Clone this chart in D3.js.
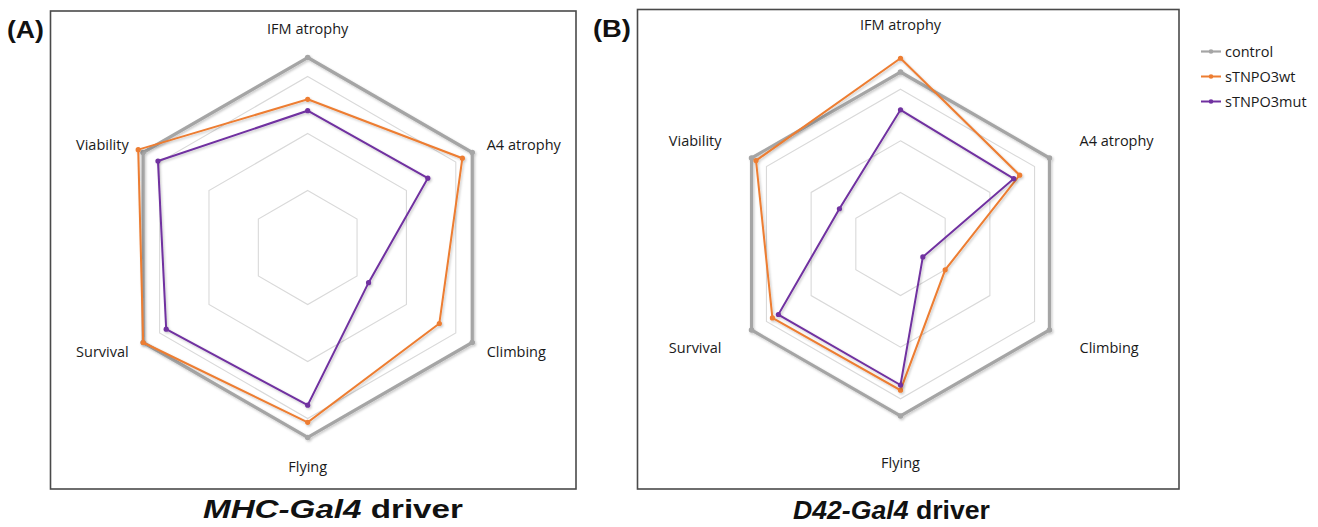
<!DOCTYPE html>
<html>
<head>
<meta charset="utf-8">
<script src="https://cdn.jsdelivr.net/npm/d3@7"></script>
<style>
  html, body { margin: 0; padding: 0; background: #ffffff; }
  svg { display: block; }
</style>
</head>
<body>
<svg id="chart" width="1318" height="527"></svg>
<script>
// ---------- data ----------
const categories = ["IFM atrophy", "A4 atrophy", "Climbing", "Flying", "Survival", "Viability"];
const seriesNames = ["control", "sTNPO3wt", "sTNPO3mut"];
const gridTicks = [0.3, 0.6, 0.9];

// Panel A: MHC-Gal4 driver
const controlA = [1.00, 1.00, 1.00, 1.00, 1.00, 1.00];
const wtA      = [0.78, 0.94, 0.80, 0.92, 1.00, 1.03];
const mutA     = [0.72, 0.73, 0.37, 0.83, 0.86, 0.91];

// Panel B: D42-Gal4 driver
const controlB = [1.00, 1.00, 1.00, 1.00, 1.00, 1.00];
const wtB      = [1.08, 0.80, 0.30, 0.85, 0.86, 0.97];
const mutB     = [0.78, 0.76, 0.15, 0.82, 0.82, 0.41];

const panelLabels = ["(A)", "(B)"];
const driverNames = ["MHC-Gal4", "D42-Gal4"];
const driverSuffix = " driver";

// ---------- styles ----------
const colors = { control: "#a5a5a5", sTNPO3wt: "#ed7d31", sTNPO3mut: "#7030a0" };
const widths = { control: 3.2, sTNPO3wt: 2, sTNPO3mut: 2 };
const labelFont = "'Open Sans', 'Noto Sans', sans-serif";
const headFont = "'Liberation Sans', Arial, sans-serif";

const svg = d3.select("#chart");
const defs = svg.append("defs");
const f = defs.append("filter").attr("id", "shadow").attr("x", "-10%").attr("y", "-10%").attr("width", "120%").attr("height", "120%");
f.append("feDropShadow").attr("dx", 1.2).attr("dy", 1.5).attr("stdDeviation", 1.1)
  .attr("flood-color", "#000").attr("flood-opacity", 0.22);

const panels = [
  { box: [50.5, 11, 576, 489], cx: 307.7, cy: 247.5, R: 190,
    series: [controlA, wtA, mutA], plab: [7, 38, 37],
    title: [203, 518, 260] },
  { box: [637.5, 9.5, 1179, 489], cx: 900.5, cy: 244, R: 172,
    series: [controlB, wtB, mutB], plab: [593, 37, 38],
    title: [793, 519, 197] }
];

const n = categories.length;
const angle = i => i * 2 * Math.PI / n;

// fitted text helper: draws text and scales it horizontally to a target width
function fittedText(g, x, y, width, build) {
  const grp = g.append("g");
  const t = grp.append("text").attr("x", 0).attr("y", 0);
  build(t);
  const w = t.node().getComputedTextLength();
  grp.attr("transform", `translate(${x},${y}) scale(${width / w},1)`);
  return grp;
}

panels.forEach((p, pi) => {
  const g = svg.append("g");
  // box
  g.append("rect")
    .attr("x", p.box[0]).attr("y", p.box[1])
    .attr("width", p.box[2] - p.box[0]).attr("height", p.box[3] - p.box[1])
    .attr("fill", "none").attr("stroke", "#4a4a4a").attr("stroke-width", 1.6);

  const r = d3.scaleLinear().domain([0, 1]).range([0, p.R]);
  const plot = g.append("g").attr("transform", `translate(${p.cx},${p.cy})`);

  // grid rings
  const ring = d3.lineRadial().angle((d, i) => angle(i)).radius(d => r(d)).curve(d3.curveLinearClosed);
  gridTicks.forEach(t => {
    plot.append("path").attr("d", ring(categories.map(() => t)))
      .attr("fill", "none").attr("stroke", "#d9d9d9").attr("stroke-width", 1.1);
  });

  // series
  p.series.forEach((vals, si) => {
    const name = seriesNames[si];
    const line = d3.lineRadial().angle((d, i) => angle(i)).radius(d => r(d)).curve(d3.curveLinearClosed);
    const sg = plot.append("g").attr("filter", "url(#shadow)");
    sg.append("path").attr("d", line(vals))
      .attr("fill", "none").attr("stroke", colors[name]).attr("stroke-width", widths[name])
      .attr("stroke-linejoin", "miter");
    sg.selectAll("circle").data(vals).join("circle")
      .attr("cx", (d, i) => d3.pointRadial(angle(i), r(d))[0])
      .attr("cy", (d, i) => d3.pointRadial(angle(i), r(d))[1])
      .attr("r", name === "control" ? 2.8 : 2.6)
      .attr("fill", colors[name]);
  });

  // category labels
  const lbl = g.append("g").attr("font-family", labelFont).attr("font-size", 14.5).attr("fill", "#1a1a1a");
  categories.forEach((c, i) => {
    const a = angle(i);
    const sx = Math.sin(a), cyy = -Math.cos(a);
    let x, y, anchor;
    if (Math.abs(sx) < 0.01) {
      x = p.cx; anchor = "middle";
      y = cyy < 0 ? p.cy - 214 : p.cy + 224;
    } else {
      x = p.cx + (sx > 0 ? 179 : -179);
      anchor = sx > 0 ? "start" : "end";
      y = cyy < 0 ? p.cy - 98 : p.cy + 109;
    }
    lbl.append("text").attr("x", x).attr("y", y).attr("text-anchor", anchor).text(c);
  });

  // panel label
  fittedText(svg, p.plab[0], p.plab[1], p.plab[2], t => {
    t.attr("font-family", headFont).attr("font-weight", "bold").attr("font-size", 23).attr("fill", "#111").text(panelLabels[pi]);
  });

  // title
  fittedText(svg, p.title[0], p.title[1], p.title[2], t => {
    t.attr("font-family", headFont).attr("font-weight", "bold").attr("font-size", 26.5).attr("fill", "#111");
    t.append("tspan").attr("font-style", "italic").text(driverNames[pi]);
    t.append("tspan").text(driverSuffix);
  });
});

// legend
const legend = svg.append("g").attr("font-family", labelFont).attr("font-size", 14.5).attr("fill", "#1a1a1a");
const legendY = d3.scalePoint().domain(seriesNames).range([51.5, 101.5]);
seriesNames.forEach(s => {
  const y = legendY(s);
  legend.append("line").attr("x1", 1201).attr("x2", 1221).attr("y1", y).attr("y2", y)
    .attr("stroke", colors[s]).attr("stroke-width", s === "control" ? 2.2 : 2);
  legend.append("circle").attr("cx", 1211).attr("cy", y).attr("r", 2.3).attr("fill", colors[s]);
  legend.append("text").attr("x", 1225).attr("y", y + 5).text(s);
});
</script>
</body>
</html>
